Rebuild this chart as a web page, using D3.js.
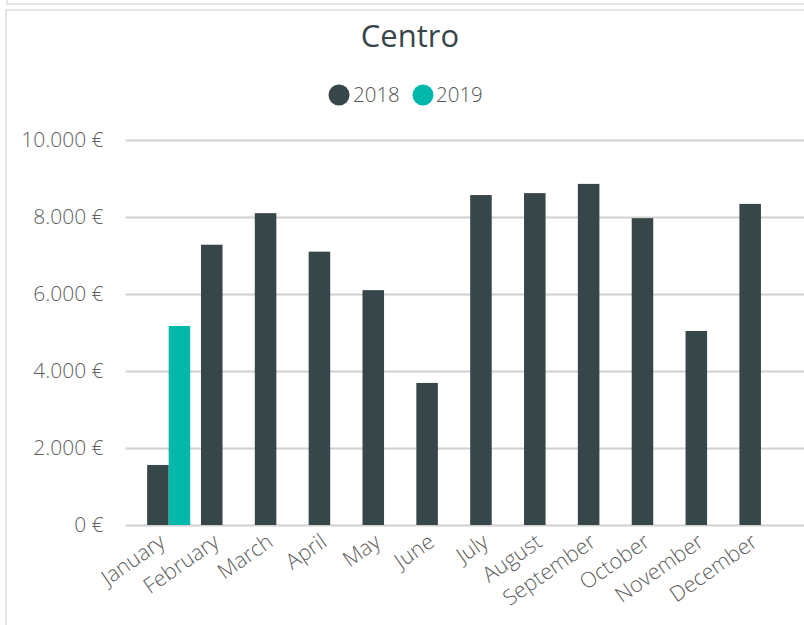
<!DOCTYPE html>
<html>
<head>
<meta charset="utf-8">
<script src="https://cdn.jsdelivr.net/npm/d3@7"></script>
<style>
  html, body { margin: 0; padding: 0; background: #fff; }
  svg { display: block; font-family: "Open Sans", "Noto Sans", sans-serif; }
</style>
</head>
<body>
<svg id="chart" width="804" height="625"></svg>
<script>
const months = ["January","February","March","April","May","June","July","August","September","October","November","December"];
const seriesNames = ["2018", "2019"];
const values2018 = [1560, 7280, 8100, 7100, 6100, 3690, 8570, 8620, 8860, 7970, 5040, 8340];
const values2019 = [5170, null, null, null, null, null, null, null, null, null, null, null];
const yTicks = [0, 2000, 4000, 6000, 8000, 10000];
const colors = ["#374649", "#01B8AA"];
const title = "Centro";

const svg = d3.select("#chart");

// frames
svg.append("line").attr("x1", 6).attr("x2", 804).attr("y1", 4).attr("y2", 4)
  .attr("stroke", "#e6e6e6").attr("stroke-width", 2);
svg.append("line").attr("x1", 7).attr("x2", 7).attr("y1", 0).attr("y2", 4)
  .attr("stroke", "#e6e6e6").attr("stroke-width", 2);
svg.append("rect").attr("x", 6).attr("y", 10).attr("width", 820).attr("height", 640)
  .attr("fill", "none").attr("stroke", "#e6e6e6").attr("stroke-width", 2);

const plotLeft = 125.6, plotRight = 804, yTop = 140, yBottom = 525;

const x0 = d3.scaleBand().domain(months).range([plotLeft, plotRight])
  .paddingInner(0.2).paddingOuter(0.4);
const x1 = d3.scaleBand().domain(seriesNames).range([0, x0.bandwidth()]);
const y = d3.scaleLinear().domain([0, 10000]).range([yBottom, yTop]);

const locale = d3.formatLocale({decimal: ",", thousands: ".", grouping: [3], currency: ["", " €"]});
const fmt = v => locale.format(",.0f")(v) + " €";

// title
svg.append("text").attr("x", 410).attr("y", 47).attr("text-anchor", "middle")
  .attr("font-size", 31).attr("fill", "#374649").text(title);

// legend
const legendItems = [{name: "2018", cx: 339, tx: 353}, {name: "2019", cx: 423, tx: 436}];
legendItems.forEach((d, i) => {
  svg.append("circle").attr("cx", d.cx).attr("cy", 95).attr("r", 10.5).attr("fill", colors[i]);
  svg.append("text").attr("x", d.tx).attr("y", 102).attr("font-size", 20.5).attr("font-weight", 300)
    .attr("fill", "#555555").text(d.name);
});

// y axis
const yAxis = d3.axisLeft(y).tickValues(yTicks).tickFormat(fmt).tickSize(-(plotRight - plotLeft)).tickPadding(22);
const gy = svg.append("g").attr("transform", `translate(${plotLeft},0)`).call(yAxis);
gy.select(".domain").remove();
gy.selectAll(".tick line").attr("stroke", "#d0d0d0").attr("stroke-width", 2);
gy.selectAll(".tick text").attr("font-size", 21).attr("font-weight", 300).attr("fill", "#5f5f5f")
  .attr("font-family", "'Open Sans', sans-serif");

// bars
const data = months.map((m, i) => ({month: m, vals: [values2018[i], values2019[i]]}));
const groups = svg.append("g").selectAll("g").data(data).join("g")
  .attr("transform", d => `translate(${x0(d.month)},0)`);
groups.selectAll("rect").data(d => d.vals.map((v, j) => ({key: seriesNames[j], v, j})).filter(e => e.v != null))
  .join("rect")
  .attr("x", e => x1(e.key))
  .attr("width", x1.bandwidth())
  .attr("y", e => y(e.v))
  .attr("height", e => y(0) - y(e.v))
  .attr("fill", e => colors[e.j]);

// x axis labels
const xAxis = d3.axisBottom(x0).tickSize(0).tickPadding(0);
const gx = svg.append("g").attr("transform", `translate(0,${yBottom})`).call(xAxis);
gx.select(".domain").remove();
gx.selectAll(".tick text")
  .attr("font-size", 21.5).attr("font-weight", 300).attr("fill", "#5f5f5f").attr("font-family", "'Open Sans', sans-serif")
  .attr("text-anchor", "end").attr("dy", null).attr("y", null)
  .attr("transform", "translate(-2,20) rotate(-35)");
</script>
</body>
</html>
